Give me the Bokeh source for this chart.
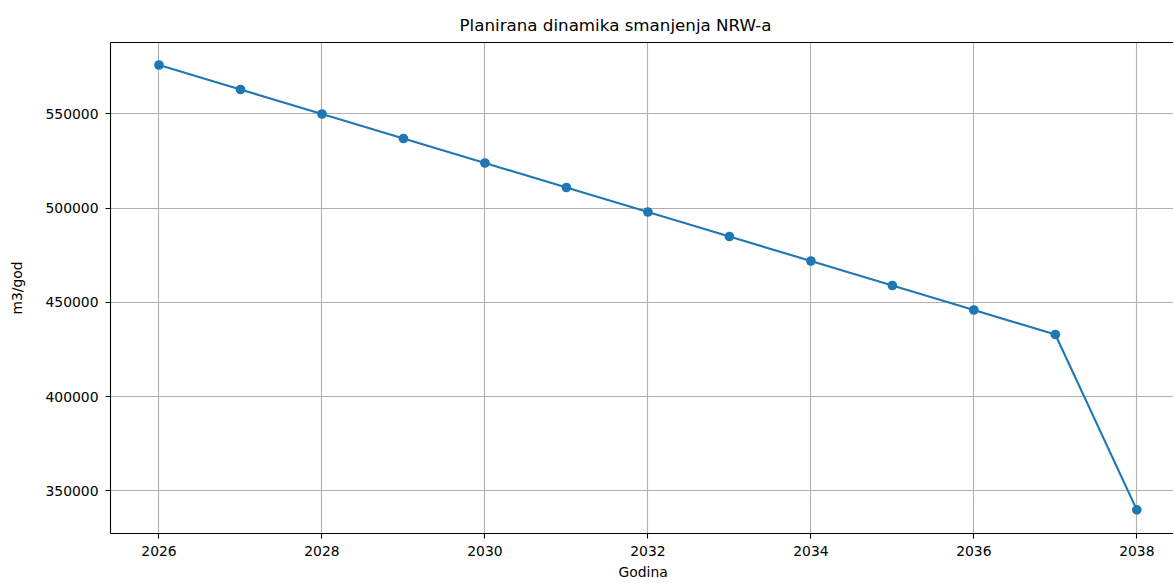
from bokeh.plotting import figure
from bokeh.models import Range1d, FixedTicker, LinearAxis, Title
from bokeh.embed import file_html
from bokeh.resources import INLINE

# ---- data ----
years = [2026, 2027, 2028, 2029, 2030, 2031, 2032, 2033, 2034, 2035, 2036, 2037, 2038]
nrw = [576000, 563000, 550000, 537000, 524000, 511000, 498000, 485000, 472000, 459000, 446000, 433000, 340000]
x_ticks = [2026, 2028, 2030, 2032, 2034, 2036, 2038]
x_tick_labels = ["2026", "2028", "2030", "2032", "2034", "2036", "2038"]
y_ticks = [350000, 400000, 450000, 500000, 550000]
y_tick_labels = ["350000", "400000", "450000", "500000", "550000"]
title_text = "Planirana dinamika smanjenja NRW-a"
x_label = "Godina"
y_label = "m3/god"

FONT = "DejaVu Sans"
BLUE = "#1f77b4"

p = figure(width=1173, height=583, output_backend="svg", toolbar_location=None,
           x_range=Range1d(2025.405, 2038.45), y_range=Range1d(327450, 587930),
           min_border_left=110, min_border_right=0, min_border_top=42, min_border_bottom=50)

p.outline_line_color = None
p.background_fill_color = "white"
p.border_fill_color = "white"

# title
p.title.text = title_text
p.title.align = "left"
p.title.offset = 349
p.title.text_font = FONT
p.title.text_font_size = "16.7px"
p.title.text_font_style = "normal"
p.title.text_color = "black"
p.title.standoff = 16

# x label as a below title
xl = Title(text=x_label, align="left", offset=508, text_font=FONT, text_font_size="13.9px",
           text_font_style="normal", text_color="black", standoff=6)
p.add_layout(xl, "below")

for ax in (p.xaxis[0], p.yaxis[0]):
    ax.axis_line_color = "black"
    ax.axis_line_width = 1.1
    ax.major_tick_line_color = "black"
    ax.major_tick_line_width = 1.1
    ax.major_tick_in = 0
    ax.major_tick_out = 5
    ax.minor_tick_line_color = None
    ax.major_label_text_font = FONT
    ax.major_label_text_font_size = "13.9px"
    ax.major_label_text_color = "black"
    ax.axis_label_text_font = FONT
    ax.axis_label_text_font_size = "13.9px"
    ax.axis_label_text_font_style = "normal"
    ax.axis_label_text_color = "black"

p.xaxis[0].ticker = FixedTicker(ticks=x_ticks)
p.xaxis[0].major_label_overrides = dict(zip(x_ticks, x_tick_labels))
p.xaxis[0].major_label_standoff = 7
p.yaxis[0].ticker = FixedTicker(ticks=y_ticks)
p.yaxis[0].major_label_overrides = dict(zip(y_ticks, y_tick_labels))
p.yaxis[0].major_label_standoff = 7
p.yaxis[0].axis_label = y_label
p.yaxis[0].axis_label_standoff = 17

# top spine
top = LinearAxis(ticker=FixedTicker(ticks=[]), axis_line_color="black", axis_line_width=1.1,
                 major_tick_line_color=None, minor_tick_line_color=None,
                 major_label_text_font_size="0px", major_label_standoff=0,
                 major_tick_out=0, major_tick_in=0)
p.add_layout(top, "above")

p.xgrid.ticker = FixedTicker(ticks=x_ticks)
p.ygrid.ticker = FixedTicker(ticks=y_ticks)
for g in (p.xgrid, p.ygrid):
    g.grid_line_color = "#b0b0b0"
    g.grid_line_width = 1.1

p.line(years, nrw, line_color=BLUE, line_width=2.1)
p.scatter(years, nrw, size=9.7, fill_color=BLUE, line_color=BLUE, line_width=0)

open("out.html", "w").write(file_html(p, INLINE))
